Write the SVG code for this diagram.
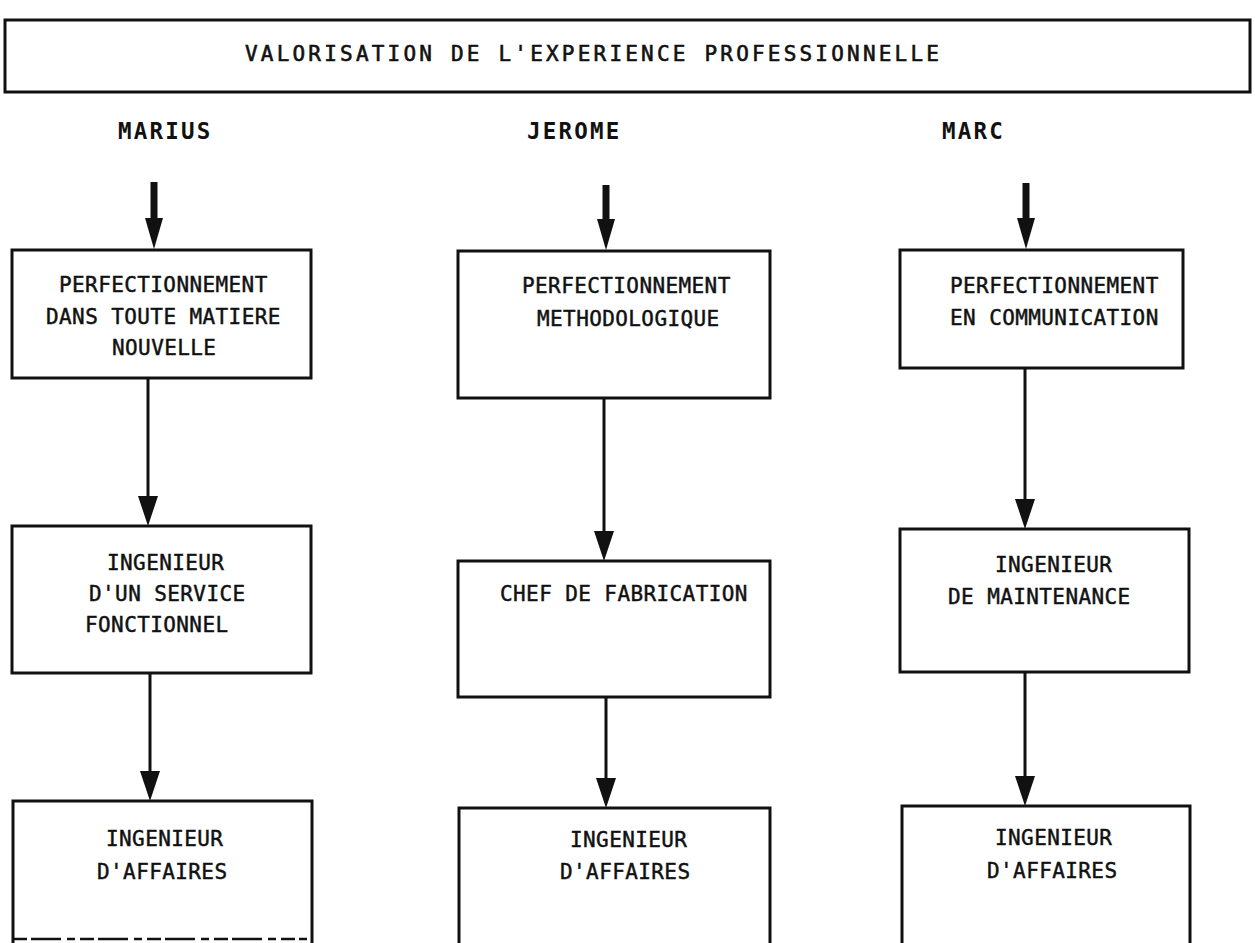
<svg xmlns="http://www.w3.org/2000/svg" width="1255" height="943" viewBox="0 0 1255 943">
  <defs>
    <style>
      .box { fill: none; stroke: #111; stroke-width: 3; }
      .lbl { font-family: "DejaVu Sans Mono", "Liberation Mono", monospace; font-size: 21px; letter-spacing: 0.4px; fill: #111; stroke: #111; stroke-width: 0.45; }
      .title { font-family: "DejaVu Sans Mono", "Liberation Mono", monospace; font-size: 21px; letter-spacing: 3.2px; fill: #111; stroke: #111; stroke-width: 0.6; }
      .name { font-family: "DejaVu Sans Mono", "Liberation Mono", monospace; font-size: 22.5px; font-weight: bold; letter-spacing: 2.2px; fill: #111; }
      .thick { stroke: #111; stroke-width: 7; fill: none; }
      .thin { stroke: #111; stroke-width: 3; fill: none; }
    </style>
    <!-- arrowheads: base sits on the line end, tip points along the line -->
    <marker id="headThick" markerUnits="userSpaceOnUse" markerWidth="31" markerHeight="20" viewBox="0 0 31 20" refX="0" refY="10" orient="auto">
      <path d="M0,1 L31,10 L0,19 Z" fill="#111"/>
    </marker>
    <marker id="headThin" markerUnits="userSpaceOnUse" markerWidth="30" markerHeight="22" viewBox="0 0 30 22" refX="0" refY="11" orient="auto">
      <path d="M0,1 L30,11 L0,21 Z" fill="#111"/>
    </marker>
  </defs>

  <rect x="0" y="0" width="1255" height="943" fill="#fff"/>

  <!-- heading -->
  <g id="title">
    <rect class="box" x="5" y="20" width="1245" height="72"/>
    <text class="title" x="245" y="61">VALORISATION DE L'EXPERIENCE PROFESSIONNELLE</text>
  </g>

  <!-- column headers -->
  <g id="name-marius"><text class="name" x="118" y="139">MARIUS</text></g>
  <g id="name-jerome"><text class="name" x="527" y="139">JEROME</text></g>
  <g id="name-marc"><text class="name" x="942" y="139">MARC</text></g>

  <!-- MARIUS column -->
  <g id="marius-perfectionnement">
    <rect class="box" x="12" y="250" width="299" height="128"/>
    <text class="lbl" x="59" y="292">PERFECTIONNEMENT</text>
    <text class="lbl" x="46" y="324">DANS TOUTE MATIERE</text>
    <text class="lbl" x="112" y="355">NOUVELLE</text>
  </g>
  <g id="marius-ingenieur-service">
    <rect class="box" x="12" y="526" width="299" height="147"/>
    <text class="lbl" x="107" y="570">INGENIEUR</text>
    <text class="lbl" x="89" y="601">D'UN SERVICE</text>
    <text class="lbl" x="85" y="632">FONCTIONNEL</text>
  </g>
  <g id="marius-ingenieur-affaires">
    <path class="box" d="M13,945 L13,801 L312,801 L312,945"/>
    <line x1="13" y1="939" x2="307" y2="939" stroke="#111" stroke-width="2.5" stroke-dasharray="14 4 30 6 8 5"/>
    <text class="lbl" x="106" y="846">INGENIEUR</text>
    <text class="lbl" x="97" y="879">D'AFFAIRES</text>
  </g>

  <!-- JEROME column -->
  <g id="jerome-perfectionnement">
    <rect class="box" x="458" y="251" width="312" height="147"/>
    <text class="lbl" x="522" y="293">PERFECTIONNEMENT</text>
    <text class="lbl" x="537" y="326">METHODOLOGIQUE</text>
  </g>
  <g id="jerome-chef-fabrication">
    <rect class="box" x="458" y="561" width="312" height="136"/>
    <text class="lbl" x="500" y="601">CHEF DE FABRICATION</text>
  </g>
  <g id="jerome-ingenieur-affaires">
    <path class="box" d="M459,945 L459,808 L770,808 L770,945"/>
    <text class="lbl" x="570" y="847">INGENIEUR</text>
    <text class="lbl" x="560" y="879">D'AFFAIRES</text>
  </g>

  <!-- MARC column -->
  <g id="marc-perfectionnement">
    <rect class="box" x="900" y="250" width="283" height="118"/>
    <text class="lbl" x="950" y="293">PERFECTIONNEMENT</text>
    <text class="lbl" x="950" y="325">EN COMMUNICATION</text>
  </g>
  <g id="marc-ingenieur-maintenance">
    <rect class="box" x="900" y="529" width="289" height="143"/>
    <text class="lbl" x="995" y="572">INGENIEUR</text>
    <text class="lbl" x="948" y="604">DE MAINTENANCE</text>
  </g>
  <g id="marc-ingenieur-affaires">
    <path class="box" d="M902,945 L902,806 L1190,806 L1190,945"/>
    <text class="lbl" x="995" y="845">INGENIEUR</text>
    <text class="lbl" x="987" y="878">D'AFFAIRES</text>
  </g>

  <!-- connectors -->
  <g id="connectors">
    <line class="thick" x1="154" y1="182" x2="154" y2="218" marker-end="url(#headThick)"/>
    <line class="thick" x1="606" y1="185" x2="606" y2="219" marker-end="url(#headThick)"/>
    <line class="thick" x1="1026" y1="183" x2="1026" y2="218" marker-end="url(#headThick)"/>

    <line class="thin" x1="148" y1="378" x2="148" y2="496" marker-end="url(#headThin)"/>
    <line class="thin" x1="150" y1="673" x2="150" y2="771" marker-end="url(#headThin)"/>

    <line class="thin" x1="604" y1="398" x2="604" y2="531" marker-end="url(#headThin)"/>
    <line class="thin" x1="606" y1="697" x2="606" y2="778" marker-end="url(#headThin)"/>

    <line class="thin" x1="1025" y1="368" x2="1025" y2="499" marker-end="url(#headThin)"/>
    <line class="thin" x1="1025" y1="672" x2="1025" y2="776" marker-end="url(#headThin)"/>
  </g>
</svg>
